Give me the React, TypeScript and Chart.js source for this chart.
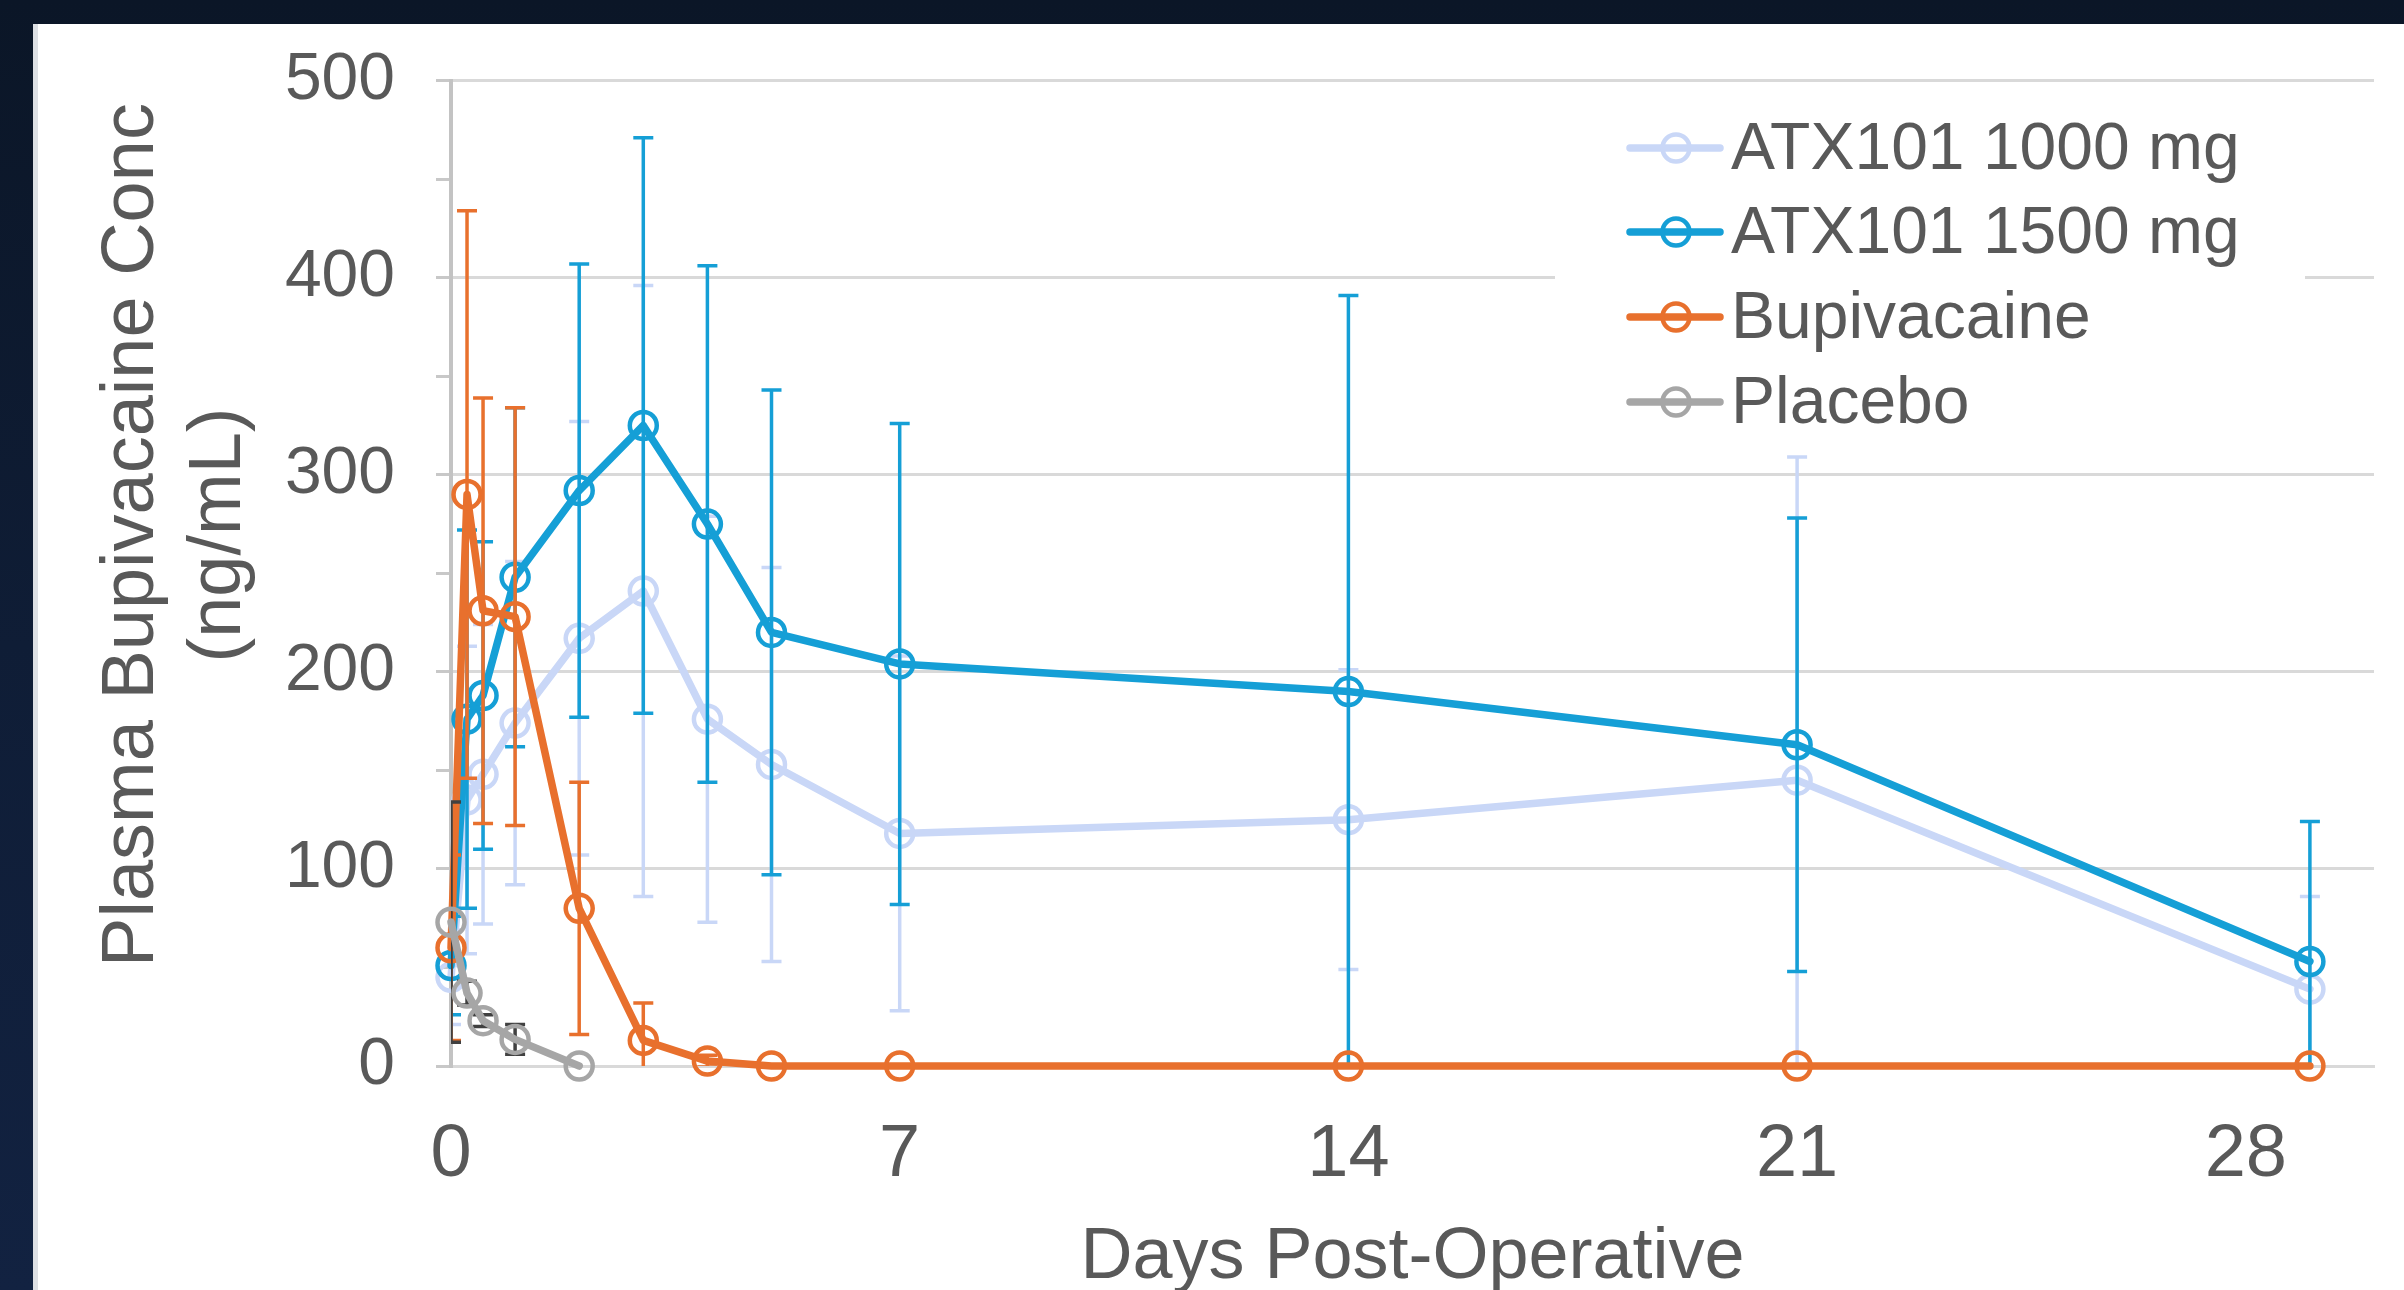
import React, { useEffect, useRef } from "react";
import { Chart, registerables } from "chart.js";

Chart.register(...registerables);

// ---------- data ----------
const days = [0, 0.25, 0.5, 1, 2, 3, 4, 5, 7, 14, 21, 29];
const placeboDays = [0, 0.25, 0.5, 1, 2];

const atx1000 = [45, 135, 148, 174, 217, 241, 176, 153, 118, 125, 145, 39];
const atx1000Err = [24, 78, 76, 82, 110, 155, 103, 100, 90, 76, 164, 47];

const atx1500 = [51, 176, 188, 248, 292, 325, 275, 220, 204, 190, 163, 53];
const atx1500Err = [25, 96, 78, 86, 115, 146, 131, 123, 122, 201, 115, 71];

const bupivacaine = [60, 290, 231, 228, 80, 13, 2.5, 0, 0, 0, 0, 0];
const bupivacaineErr = [47, 144, 108, 106, 64, 19, 3, 0, 0, 0, 0, 0];

const placebo = [73, 37, 23, 13.5, 0];
const placeboErr = [61, 6, 3, 7.5, 0];

const seriesNames = ["ATX101 1000 mg", "ATX101 1500 mg", "Bupivacaine", "Placebo"];
const xTicks = [0, 7, 14, 21, 28];
const yTicks = [0, 50, 100, 150, 200, 250, 300, 350, 400, 450, 500];
const xTitle = "Days Post-Operative";
const yTitleLines = ["Plasma Bupivacaine Conc", "(ng/mL)"];

// ---------- styles ----------
const FONT = '"Liberation Sans", Arial, sans-serif';
const TEXT = "#595959";
const colors = ["#c9d7f7", "#159fd6", "#e8702d", "#a6a6a6"];
const errColors = ["#c9d7f7", "#159fd6", "#e8702d", "#404040"];

const W = 2404;
const H = 1290;
const AREA = { left: 451, right: 2374, top: 76, bottom: 1066 };
const LINE_W = 7.5;

const toPoints = (xs: number[], ys: number[]) => xs.map((x, i) => ({ x, y: ys[i] }));

const errorBarPlugin = {
  id: "errorBars",
  beforeDatasetDraw(chart: any, args: any) {
    const ds = chart.data.datasets[args.index];
    const errs: number[] | undefined = ds.errors;
    if (!errs) return;
    const { ctx, chartArea } = chart;
    const xs = chart.scales.x;
    const ys = chart.scales.y;
    ctx.save();
    ctx.beginPath();
    ctx.rect(chartArea.left, chartArea.top - 40, chartArea.right - chartArea.left + 40, chartArea.bottom - chartArea.top + 40);
    ctx.clip();
    ctx.strokeStyle = ds.errorColor;
    ctx.lineWidth = 3.5;
    ctx.lineCap = "butt";
    ds.data.forEach((p: any, i: number) => {
      const e = errs[i];
      if (!e) return;
      const px = xs.getPixelForValue(p.x);
      const top = ys.getPixelForValue(p.y + e);
      const bot = ys.getPixelForValue(p.y - e);
      ctx.beginPath();
      ctx.moveTo(px, top);
      ctx.lineTo(px, bot);
      ctx.moveTo(px - 10, top);
      ctx.lineTo(px + 10, top);
      ctx.moveTo(px - 10, bot);
      ctx.lineTo(px + 10, bot);
      ctx.stroke();
    });
    ctx.restore();
  },
};

const decorPlugin = {
  id: "decor",
  afterDraw(chart: any) {
    const { ctx } = chart;
    ctx.save();
    // axis titles
    ctx.fillStyle = TEXT;
    ctx.font = `72px ${FONT}`;
    ctx.textAlign = "center";
    ctx.textBaseline = "alphabetic";
    ctx.fillText(xTitle, (AREA.left + AREA.right) / 2, 1278);

    ctx.font = `74px ${FONT}`;
    const baseXs = [153, 240];
    yTitleLines.forEach((line, i) => {
      ctx.save();
      ctx.translate(baseXs[i], 535);
      ctx.rotate(-Math.PI / 2);
      ctx.fillText(line, 0, 0);
      ctx.restore();
    });

    // legend
    ctx.fillStyle = "#ffffff";
    ctx.fillRect(1555, 92, 750, 352);
    const baselines = [169, 253, 338, 423];
    seriesNames.forEach((name, i) => {
      const ly = baselines[i] - 21;
      ctx.strokeStyle = colors[i];
      ctx.lineWidth = LINE_W;
      ctx.lineCap = "round";
      ctx.beginPath();
      ctx.moveTo(1630, ly);
      ctx.lineTo(1720, ly);
      ctx.stroke();
      ctx.lineWidth = 4.5;
      ctx.beginPath();
      ctx.arc(1676, ly, 13.5, 0, Math.PI * 2);
      ctx.stroke();
      ctx.fillStyle = TEXT;
      ctx.font = `66px ${FONT}`;
      ctx.textAlign = "left";
      ctx.textBaseline = "alphabetic";
      ctx.fillText(name, 1731, baselines[i]);
    });
    ctx.restore();
  },
};

export default function App() {
  const ref = useRef<HTMLCanvasElement | null>(null);

  useEffect(() => {
    if (!ref.current) return;
    const mk = (i: number, xs: number[], ys: number[], errs: number[], order: number) => ({
      label: seriesNames[i],
      data: toPoints(xs, ys),
      errors: errs,
      errorColor: errColors[i],
      borderColor: colors[i],
      backgroundColor: colors[i],
      borderWidth: LINE_W,
      borderJoinStyle: "round",
      borderCapStyle: "round",
      tension: 0,
      pointStyle: "circle",
      pointRadius: 13.5,
      pointBorderWidth: 4.5,
      pointBorderColor: colors[i],
      pointBackgroundColor: "rgba(0,0,0,0)",
      pointHoverRadius: 13.5,
      clip: false,
      order,
    });

    const chart = new Chart(ref.current, {
      type: "line",
      data: {
        datasets: [
          mk(0, days, atx1000, atx1000Err, 4),
          mk(1, days, atx1500, atx1500Err, 3),
          mk(2, days, bupivacaine, bupivacaineErr, 2),
          mk(3, placeboDays, placebo, placeboErr, 1),
        ] as any,
      },
      options: {
        animation: false,
        responsive: false,
        devicePixelRatio: 1,
        parsing: false as any,
        layout: { padding: { left: 0, top: AREA.top, right: W - AREA.right, bottom: 0 } },
        plugins: { legend: { display: false }, tooltip: { enabled: false }, title: { display: false } },
        events: [],
        scales: {
          x: {
            type: "linear",
            min: 0,
            max: 30,
            position: "bottom",
            afterBuildTicks: (s: any) => {
              s.ticks = xTicks.map((v) => ({ value: v }));
            },
            afterFit: (s: any) => {
              s.height = H - AREA.bottom;
            },
            grid: { display: false, drawTicks: false },
            border: { display: true, color: "#d9d9d9", width: 3 },
            ticks: {
              font: { family: FONT, size: 74 },
              color: TEXT,
              padding: 45,
              maxRotation: 0,
              autoSkip: false,
            },
          },
          y: {
            type: "linear",
            min: 0,
            max: 500,
            afterBuildTicks: (s: any) => {
              s.ticks = yTicks.map((v) => ({ value: v }));
            },
            afterFit: (s: any) => {
              s.width = AREA.left;
            },
            grid: {
              color: (c: any) => (c.tick && c.tick.value % 100 === 0 ? "#d9d9d9" : "rgba(0,0,0,0)"),
              lineWidth: 3,
              drawTicks: true,
              tickLength: 15,
              tickColor: "#c8c8c8",
              tickWidth: 3,
            },
            border: { display: true, color: "#c3c3c3", width: 4 },
            ticks: {
              callback: (v: any) => (Number(v) % 100 === 0 ? String(v) : ""),
              font: { family: FONT, size: 66 },
              color: TEXT,
              padding: 41,
              autoSkip: false,
            },
          },
        },
      } as any,
      plugins: [errorBarPlugin, decorPlugin],
    });
    return () => chart.destroy();
  }, []);

  return (
    <div
      style={{
        position: "fixed",
        left: 0,
        top: 0,
        width: W,
        height: H,
        background: "linear-gradient(180deg, #0b1627 0%, #0f1d36 50%, #122241 100%)",
        overflow: "hidden",
      }}
    >
      <div
        style={{
          position: "absolute",
          left: 33,
          top: 24,
          right: 0,
          bottom: 0,
          background: "#ffffff",
          borderLeft: "5px solid #dde0e4",
          boxSizing: "border-box",
        }}
      />
      <canvas
        ref={ref}
        width={W}
        height={H}
        style={{ position: "absolute", left: 0, top: 0, width: W, height: H, display: "block" }}
      />
    </div>
  );
}
